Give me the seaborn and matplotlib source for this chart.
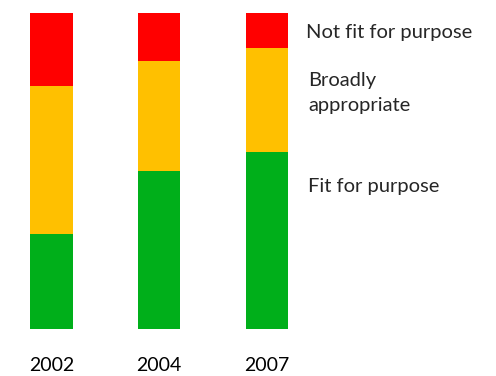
import matplotlib
matplotlib.use("Agg")
import matplotlib.pyplot as plt
import seaborn as sns
import numpy as np

years = ["2002", "2004", "2007"]
fit_for_purpose = [30, 50, 56]
broadly_appropriate = [47, 35, 33]
not_fit_for_purpose = [23, 15, 11]

series_names = ["Fit for purpose", "Broadly\nappropriate", "Not fit for purpose"]
series_colors = ["#00AF1A", "#FFC000", "#FF0000"]

sns.set_theme(style="white")
plt.rcParams["font.family"] = ["Lato", "DejaVu Sans"]

fig = plt.figure(figsize=(4.96, 3.76), dpi=100)
ax = fig.add_axes([0, 47 / 376, 1, (329 - 13.3) / 376])

bottom = np.zeros(len(years))
for vals, color in zip([fit_for_purpose, broadly_appropriate, not_fit_for_purpose], series_colors):
    sns.barplot(x=years, y=vals, bottom=bottom, color=color, width=0.39,
                linewidth=0, saturation=1, ax=ax)
    bottom = bottom + np.array(vals)

ax.set_xlim(-51.5 / 107.75, (496 - 51.5) / 107.75)
ax.set_ylim(0, 100)
for s in ax.spines.values():
    s.set_visible(False)
ax.set_yticks([])
ax.tick_params(axis="x", length=0, pad=20.5, labelsize=14, colors="#000000")
ax.set_xlabel("")
ax.set_ylabel("")

fs = 14.5
label_x = 2.38
ax.text(label_x - 0.02, 93.8, series_names[2], va="center", ha="left", fontsize=fs)
ax.text(label_x, 74.8, series_names[1], va="center", ha="left", fontsize=fs, linespacing=1.55)
ax.text(label_x, 45, series_names[0], va="center", ha="left", fontsize=fs)

fig.savefig("out.png", dpi=100)
